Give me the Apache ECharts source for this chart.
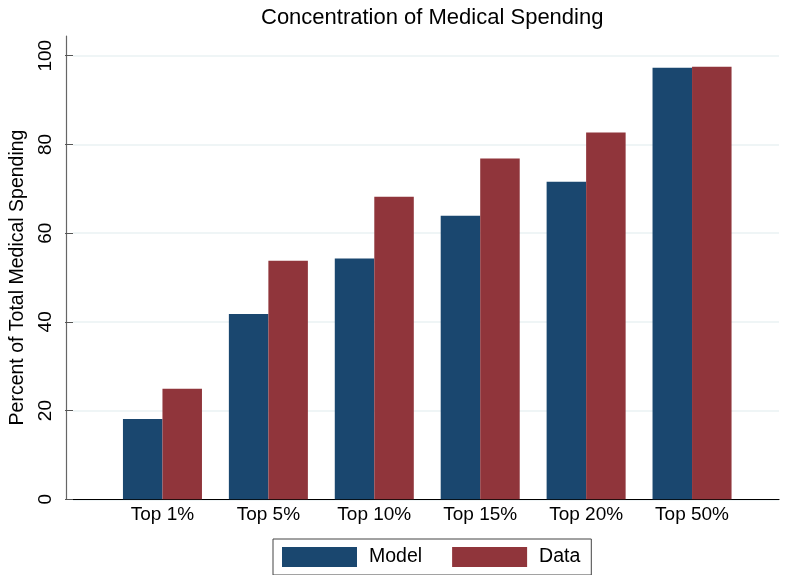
<!DOCTYPE html>
<html>
<head>
<meta charset="utf-8">
<script src="https://cdn.jsdelivr.net/npm/echarts@6/dist/echarts.min.js"></script>
<style>
  html, body { margin: 0; padding: 0; background: #fff; }
  #chart { width: 789px; height: 575px; }
</style>
</head>
<body>
<div id="chart"></div>
<script>
const categories = ["Top 1%", "Top 5%", "Top 10%", "Top 15%", "Top 20%", "Top 50%"]
const modelValues = [18.1, 41.8, 54.3, 63.9, 71.6, 97.3]
const dataValues = [24.9, 53.8, 68.2, 76.8, 82.7, 97.5]
const yTicks = [0, 20, 40, 60, 80, 100]

const FONT = "Liberation Sans, Arial, Helvetica, sans-serif"
const plotBottom = 575 - 499.3

const chart = echarts.init(document.getElementById("chart"), null, { renderer: "canvas" })

chart.setOption({
  animation: false,
  textStyle: { fontFamily: FONT },
  title: {
    text: "Concentration of Medical Spending",
    left: 261,
    top: 7,
    padding: 0,
    textStyle: { fontFamily: FONT, fontSize: 22, fontWeight: "normal", color: "#000" }
  },
  legend: {
    data: ["Model", "Data"],
    left: 273,
    top: 539,
    orient: "horizontal",
    itemWidth: 75,
    itemHeight: 20,
    itemGap: 30,
    padding: [8, 11, 8, 9],
    borderColor: "#444",
    borderWidth: 1,
    icon: "rect",
    textStyle: { fontFamily: FONT, fontSize: 19.5, color: "#000", padding: [0, 0, 0, 7] }
  },
  grid: [
    // frame with grid lines
    { left: 66, right: 10, top: 55.7, bottom: plotBottom },
    // tall y axis line
    { left: 66, right: 10, top: 36, bottom: plotBottom },
    // bars
    { left: 109.5, right: 44, top: 55.7, bottom: plotBottom }
  ],
  xAxis: [
    {
      gridIndex: 0, type: "value", min: 0, max: 1,
      axisLine: { show: true, lineStyle: { color: "#000", width: 1.2 } },
      axisTick: { show: false }, axisLabel: { show: false }, splitLine: { show: false }
    },
    {
      gridIndex: 1, type: "value", min: 0, max: 1, show: false
    },
    {
      gridIndex: 2, type: "category", data: categories,
      axisLine: { show: false }, axisTick: { show: false },
      axisLabel: { fontFamily: FONT, fontSize: 19, color: "#000", margin: 6 }
    }
  ],
  yAxis: [
    {
      gridIndex: 0, type: "value", min: 0, max: 100, interval: 20,
      axisLine: { show: false },
      axisTick: { show: true, inside: false, length: 8, lineStyle: { color: "#555" } },
      axisLabel: {
        fontFamily: FONT, fontSize: 19, color: "#000", rotate: 90, margin: 18,
        formatter: v => (yTicks.includes(v) ? String(v) : "")
      },
      splitLine: { show: true, lineStyle: { color: "#eaf2f3", width: 1.5 } },
      name: "Percent of Total Medical Spending",
      nameLocation: "middle",
      nameGap: 45,
      nameTextStyle: { fontFamily: FONT, fontSize: 19.5, color: "#000" }
    },
    {
      gridIndex: 1, type: "value", min: 0, max: 1,
      axisLine: { show: true, lineStyle: { color: "#666", width: 1.2 } },
      axisTick: { show: false }, axisLabel: { show: false }, splitLine: { show: false }
    },
    {
      gridIndex: 2, type: "value", min: 0, max: 100, show: false
    }
  ],
  series: [
    {
      name: "Model", type: "bar", xAxisIndex: 2, yAxisIndex: 2,
      data: modelValues, barGap: "0%", barCategoryGap: "25.4%",
      itemStyle: { color: "#1a476f" }
    },
    {
      name: "Data", type: "bar", xAxisIndex: 2, yAxisIndex: 2,
      data: dataValues, barGap: "0%", barCategoryGap: "25.4%",
      itemStyle: { color: "#90353b" }
    }
  ]
})
</script>
</body>
</html>
